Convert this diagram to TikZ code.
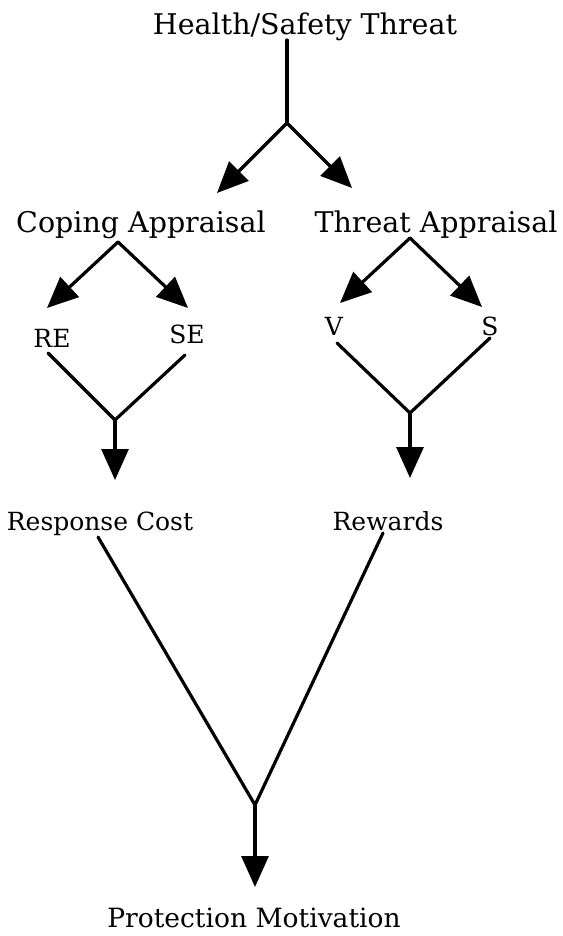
\documentclass[tikz,border=0pt]{standalone}
\usepackage{fontspec}
\setmainfont{DejaVu Serif}
\usetikzlibrary{arrows.meta}
\begin{document}
\begin{tikzpicture}[x=1pt,y=-1pt,
  lbl/.style={anchor=base,inner sep=0pt,font=\fontsize{25}{30}\selectfont},
  big/.style={lbl,font=\fontsize{28.5}{34}\selectfont},
  mid/.style={lbl,font=\fontsize{26.5}{32}\selectfont},
  ln/.style={line width=3.2pt,line cap=round,line join=miter},
  arr/.style={ln,-{Triangle[length=31pt,width=27pt]}}]
\useasboundingbox (0,0) rectangle (562,936);
% text nodes
\node[big] (hst) at (305,35) {Health/Safety Threat};
\node[big] (ca) at (141,232) {Coping Appraisal};
\node[big] (ta) at (436,232) {Threat Appraisal};
\node[lbl] (re) at (52,347) {RE};
\node[lbl] (se) at (187,343) {SE};
\node[lbl] (v) at (334,335) {V};
\node[lbl] (s) at (490,335) {S};
\node[lbl] (rc) at (100,530) {Response Cost};
\node[lbl] (rw) at (388,530) {Rewards};
\node[mid] (pm) at (254,927) {Protection Motivation};
% junctions and ends
\coordinate (j1) at (287,123);
\coordinate (hstb) at (287,40);
\coordinate (caT) at (217,193);
\coordinate (taT) at (352,188);
\coordinate (caA) at (118,242);
\coordinate (reT) at (47,308);
\coordinate (seT) at (188,308);
\coordinate (taA) at (410,238);
\coordinate (vT) at (340,303);
\coordinate (sT) at (482,307);
\coordinate (reB) at (48,353);
\coordinate (seB) at (185,355);
\coordinate (j2) at (115,420);
\coordinate (rcT) at (115,480);
\coordinate (vB) at (337,343);
\coordinate (sB) at (490,338);
\coordinate (j3) at (410,413);
\coordinate (rwT) at (410,478);
\coordinate (rcB) at (98,537);
\coordinate (rwB) at (383,533);
\coordinate (j4) at (255,805);
\coordinate (pmT) at (255,887);
% connectors
\draw[ln] (hstb) -- (j1);
\draw[arr] (j1) -- (caT);
\draw[arr] (j1) -- (taT);
\draw[arr] (caA) -- (reT);
\draw[arr] (caA) -- (seT);
\draw[arr] (taA) -- (vT);
\draw[arr] (taA) -- (sT);
\draw[ln] (reB) -- (j2) -- (seB);
\draw[arr] (j2) -- (rcT);
\draw[ln] (vB) -- (j3) -- (sB);
\draw[arr] (j3) -- (rwT);
\draw[ln] (rcB) -- (j4) -- (rwB);
\draw[arr] (j4) -- (pmT);
\end{tikzpicture}
\end{document}
